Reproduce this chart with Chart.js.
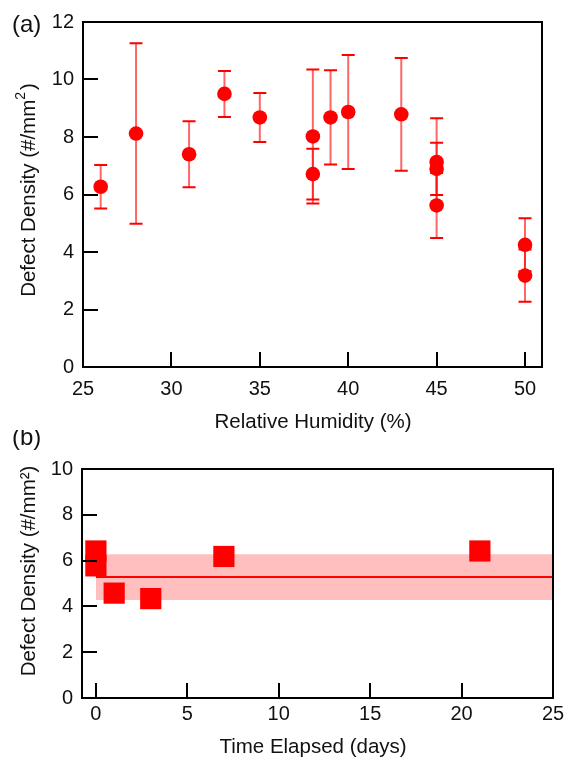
<!DOCTYPE html>
<html>
<head>
<meta charset="utf-8">
<script src="https://cdn.jsdelivr.net/npm/chart.js@4/dist/chart.umd.min.js"></script>
<style>
  html, body { margin: 0; padding: 0; background: #fff; }
  canvas { position: absolute; left: 0; }
</style>
</head>
<body>
<canvas id="chartA" width="568" height="440" style="top:0"></canvas>
<canvas id="chartB" width="568" height="328" style="top:430px"></canvas>
<script>
// (a) defect density vs relative humidity, with symmetric error bars
const humidity = [26, 28, 31, 33, 35, 38, 38, 39, 40, 43, 45, 45, 45, 50, 50];
const densityA = [6.27, 8.12, 7.40, 9.50, 8.68, 8.02, 6.71, 8.68, 8.87, 8.79, 7.13, 6.89, 5.62, 4.25, 3.18];
const errorA = [0.76, 3.14, 1.15, 0.80, 0.85, 2.33, 0.88, 1.64, 1.98, 1.96, 1.52, 0.91, 1.13, 0.92, 0.91];
const humidityTicks = [25, 30, 35, 40, 45, 50];
const densityTicksA = [0, 2, 4, 6, 8, 10, 12];

// (b) defect density vs time elapsed, mean line with +/- band
const days = [0, 0, 1, 3, 7, 21];
const densityB = [6.42, 5.77, 4.58, 4.34, 6.18, 6.42];
const meanB = 5.28;
const bandLowB = 4.28;
const bandHighB = 6.28;
const bandDays = [0, 25];
const dayTicks = [0, 5, 10, 15, 20, 25];
const densityTicksB = [0, 2, 4, 6, 8, 10];

const RED = "#ff0000";
const INK = "#111";
const FONT = "'Liberation Sans', Arial, sans-serif";

const errorBars = {
  id: "errorBars",
  beforeDatasetsDraw(chart, args, opts) {
    const { ctx, scales: { x, y } } = chart;
    ctx.save();
    opts.xs.forEach((xv, i) => {
      const px = x.getPixelForValue(xv);
      const top = y.getPixelForValue(opts.ys[i] + opts.err[i]);
      const bot = y.getPixelForValue(opts.ys[i] - opts.err[i]);
      ctx.strokeStyle = "rgba(255,0,0,0.6)";
      ctx.lineWidth = 2;
      ctx.beginPath();
      ctx.moveTo(px, top);
      ctx.lineTo(px, bot);
      ctx.stroke();
      ctx.strokeStyle = RED;
      ctx.beginPath();
      ctx.moveTo(px - 6.5, top);
      ctx.lineTo(px + 6.5, top);
      ctx.moveTo(px - 6.5, bot);
      ctx.lineTo(px + 6.5, bot);
      ctx.stroke();
    });
    ctx.restore();
  },
};

// box around the plot and inward tick marks
const frame = {
  id: "frame",
  afterDraw(chart) {
    const { ctx, chartArea: a, scales: { x, y } } = chart;
    ctx.save();
    ctx.strokeStyle = "#000";
    ctx.lineWidth = 2;
    ctx.beginPath();
    x.ticks.forEach((t) => {
      const p = Math.round(x.getPixelForValue(t.value));
      ctx.moveTo(p, a.bottom);
      ctx.lineTo(p, a.bottom - 15);
    });
    y.ticks.forEach((t) => {
      const p = Math.round(y.getPixelForValue(t.value));
      ctx.moveTo(a.left, p);
      ctx.lineTo(a.left + 15, p);
    });
    ctx.stroke();
    ctx.strokeRect(a.left, a.top, a.right - a.left, a.bottom - a.top);
    ctx.restore();
  },
};

const panelText = {
  id: "panelText",
  afterDraw(chart, args, o) {
    const ctx = chart.ctx;
    ctx.save();
    ctx.fillStyle = INK;
    ctx.textBaseline = "alphabetic";
    ctx.textAlign = "left";
    ctx.font = `24px ${FONT}`;
    ctx.fillText(o.letter, o.letterX, o.letterY);
    ctx.textAlign = "center";
    ctx.font = `20.5px ${FONT}`;
    ctx.fillText(o.xTitle, o.xTitleX, o.xTitleY);

    // rotated y title, built from parts so a superscript can sit raised
    ctx.translate(o.yTitleX, o.yTitleY);
    ctx.rotate(-Math.PI / 2);
    ctx.textAlign = "left";
    const widths = o.yTitle.map((p) => {
      ctx.font = `${p.size}px ${FONT}`;
      return ctx.measureText(p.text).width + (p.gap || 0);
    });
    let cx = -widths.reduce((s, w) => s + w, 0) / 2;
    o.yTitle.forEach((p, i) => {
      ctx.font = `${p.size}px ${FONT}`;
      ctx.fillText(p.text, cx + (p.gap || 0), -(p.rise || 0));
      cx += widths[i];
    });
    ctx.restore();
  },
};

function fixedTicks(values) {
  return (scale) => {
    scale.ticks = values.map((v) => ({ value: v }));
  };
}

const tickFont = { family: FONT, size: 20 };

new Chart(document.getElementById("chartA"), {
  type: "scatter",
  data: {
    datasets: [
      {
        data: humidity.map((h, i) => ({ x: h, y: densityA[i] })),
        pointRadius: 7.3,
        pointHoverRadius: 7.3,
        backgroundColor: RED,
        borderWidth: 0,
      },
    ],
  },
  options: {
    responsive: false,
    animation: false,
    devicePixelRatio: 1,
    layout: { padding: { top: 22, right: 26, left: 0, bottom: 0 } },
    plugins: {
      legend: { display: false },
      tooltip: { enabled: false },
      errorBars: { xs: humidity, ys: densityA, err: errorA },
      panelText: {
        letter: "(a)",
        letterX: 12,
        letterY: 32,
        xTitle: "Relative Humidity (%)",
        xTitleX: 313,
        xTitleY: 428,
        yTitleX: 34.5,
        yTitleY: 190,
        yTitle: [
          { text: "Defect Density (#/mm", size: 20.5 },
          { text: "2", size: 14, rise: 10 },
          { text: ")", size: 20.5, gap: 2 },
        ],
      },
    },
    scales: {
      x: {
        type: "linear",
        min: 25,
        max: 50.96,
        afterBuildTicks: fixedTicks(humidityTicks),
        afterFit: (s) => { s.height = 73; },
        grid: { display: false },
        border: { display: false },
        ticks: { padding: 2, color: INK, font: tickFont, maxRotation: 0, autoSkip: false },
      },
      y: {
        min: 0,
        max: 12,
        afterBuildTicks: fixedTicks(densityTicksA),
        afterFit: (s) => { s.width = 83; },
        grid: { display: false },
        border: { display: false },
        ticks: { padding: 1, color: INK, font: tickFont, autoSkip: false },
      },
    },
  },
  plugins: [errorBars, frame, panelText],
});

new Chart(document.getElementById("chartB"), {
  type: "scatter",
  data: {
    datasets: [
      {
        data: days.map((d, i) => ({ x: d, y: densityB[i] })),
        pointStyle: "rect",
        pointRadius: 15,
        pointHoverRadius: 15,
        backgroundColor: RED,
        borderWidth: 0,
      },
      {
        type: "line",
        data: bandDays.map((d) => ({ x: d, y: meanB })),
        borderColor: RED,
        borderWidth: 2,
        pointRadius: 0,
        fill: false,
      },
      {
        type: "line",
        data: bandDays.map((d) => ({ x: d, y: bandHighB })),
        borderWidth: 0,
        borderColor: "rgba(0,0,0,0)",
        pointRadius: 0,
        fill: false,
      },
      {
        type: "line",
        data: bandDays.map((d) => ({ x: d, y: bandLowB })),
        borderWidth: 0,
        borderColor: "rgba(0,0,0,0)",
        pointRadius: 0,
        fill: "-1",
        backgroundColor: "rgba(255,0,0,0.25)",
      },
    ],
  },
  options: {
    responsive: false,
    animation: false,
    devicePixelRatio: 1,
    layout: { padding: { top: 39, right: 13, left: 0, bottom: 0 } },
    plugins: {
      legend: { display: false },
      tooltip: { enabled: false },
      panelText: {
        letter: "(b)",
        letterX: 12,
        letterY: 15,
        xTitle: "Time Elapsed (days)",
        xTitleX: 313,
        xTitleY: 323,
        yTitleX: 35,
        yTitleY: 141,
        yTitle: [{ text: "Defect Density (#/mm²)", size: 20.5 }],
      },
    },
    scales: {
      x: {
        type: "linear",
        min: -0.76,
        max: 25,
        afterBuildTicks: fixedTicks(dayTicks),
        afterFit: (s) => { s.height = 60; },
        grid: { display: false },
        border: { display: false },
        ticks: { padding: -4, color: INK, font: tickFont, maxRotation: 0, autoSkip: false },
      },
      y: {
        min: 0,
        max: 10,
        afterBuildTicks: fixedTicks(densityTicksB),
        afterFit: (s) => { s.width = 82; },
        grid: { display: false },
        border: { display: false },
        ticks: { padding: 1, color: INK, font: tickFont, autoSkip: false },
      },
    },
  },
  plugins: [frame, panelText],
});
</script>
</body>
</html>
